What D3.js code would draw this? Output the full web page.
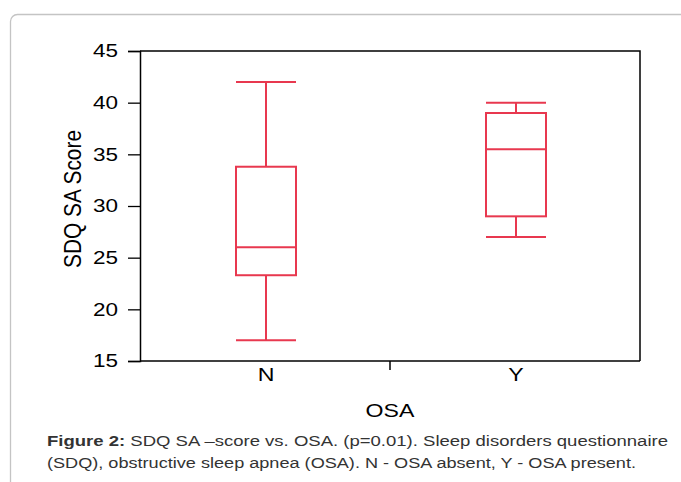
<!DOCTYPE html>
<html>
<head>
<meta charset="utf-8">
<script src="https://cdn.jsdelivr.net/npm/d3@7"></script>
<style>
  body { margin: 0; background: #fff; }
  svg { display: block; font-family: "Liberation Sans", Arial, sans-serif; }
</style>
</head>
<body>
<div id="chart"></div>
<script>
// Box plot data
var groups = ["N", "Y"];
var whiskerLow = [17, 27];
var q1 = [23.3, 29];
var median = [26, 35.5];
var q3 = [33.8, 39];
var whiskerHigh = [42, 40];
var yTicks = [15, 20, 25, 30, 35, 40, 45];

var W = 681, H = 482;
var margin = {top: 51, right: 41, bottom: 121, left: 140},
    width = W - margin.left - margin.right,
    height = H - margin.top - margin.bottom;

var color = "#e8384f";
var sx = 1.25;   // the original figure's text is stretched sideways

var root = d3.select("#chart").append("svg")
    .attr("width", W)
    .attr("height", H);

// outer panel border
root.append("rect")
    .attr("x", 10.5).attr("y", 14.5)
    .attr("width", 700).attr("height", 500)
    .attr("rx", 7)
    .attr("fill", "none")
    .attr("stroke", "#c4c4c4")
    .attr("stroke-width", 1.3);

var svg = root.append("g")
    .attr("transform", "translate(" + margin.left + "," + margin.top + ")");

var x = d3.scaleBand()
    .domain(groups)
    .range([1, width + 1]);

var y = d3.scaleLinear()
    .domain([15, 45])
    .range([height, 0]);

var boxW = 60;

// frame: top and right
svg.append("path")
    .attr("d", "M0,0H" + width + "V" + height)
    .attr("fill", "none")
    .attr("stroke", "#000")
    .attr("stroke-width", 1.5);

// Y axis
var yAxis = svg.append("g")
    .call(d3.axisLeft(y).tickValues(yTicks).tickSize(12).tickPadding(10));
yAxis.select(".domain").attr("stroke-width", 1.5);
yAxis.selectAll(".tick line").attr("stroke-width", 1.3);
yAxis.selectAll("text")
    .attr("font-size", 18).attr("fill", "#000")
    .attr("font-family", "Liberation Sans, Arial, sans-serif")
    .attr("x", -22 / sx)
    .attr("transform", "scale(" + sx + ",1)");

// X axis: labels under each box, one tick between the groups
var xAxis = svg.append("g")
    .attr("transform", "translate(0," + height + ")")
    .call(d3.axisBottom(x).tickSize(0).tickPadding(7));
xAxis.select(".domain").attr("d", "M0,0H" + width).attr("stroke-width", 1.5);
xAxis.selectAll("text")
    .attr("font-size", 18.5).attr("fill", "#000")
    .attr("font-family", "Liberation Sans, Arial, sans-serif")
    .attr("transform", "scale(" + sx + ",1)");
xAxis.append("line")
    .attr("x1", width / 2).attr("x2", width / 2)
    .attr("y1", 0).attr("y2", 9)
    .attr("stroke", "#000")
    .attr("stroke-width", 1.5);

// axis titles
root.append("text")
    .attr("transform", "translate(81,199) rotate(-90) scale(1," + sx + ")")
    .attr("text-anchor", "middle")
    .attr("font-size", 18.5)
    .attr("textLength", 138)
    .attr("lengthAdjust", "spacingAndGlyphs")
    .text("SDQ SA Score");

root.append("text")
    .attr("transform", "translate(" + (margin.left + width / 2) + ",417) scale(" + sx + ",1)")
    .attr("text-anchor", "middle")
    .attr("font-size", 18.5)
    .text("OSA");

// boxes
var boxes = svg.append("g")
    .selectAll("g")
    .data(groups)
    .join("g")
    .attr("transform", function(d) { return "translate(" + (x(d) + x.bandwidth() / 2) + ",0)"; })
    .attr("stroke", color)
    .attr("stroke-width", 2)
    .attr("fill", "none");

boxes.each(function(d, i) {
    var g = d3.select(this);
    g.append("line").attr("x1", 0).attr("x2", 0)
        .attr("y1", y(whiskerHigh[i])).attr("y2", y(q3[i]));
    g.append("line").attr("x1", 0).attr("x2", 0)
        .attr("y1", y(q1[i])).attr("y2", y(whiskerLow[i]));
    g.append("line").attr("x1", -boxW / 2).attr("x2", boxW / 2)
        .attr("y1", y(whiskerHigh[i])).attr("y2", y(whiskerHigh[i]));
    g.append("line").attr("x1", -boxW / 2).attr("x2", boxW / 2)
        .attr("y1", y(whiskerLow[i])).attr("y2", y(whiskerLow[i]));
    g.append("rect")
        .attr("x", -boxW / 2).attr("width", boxW)
        .attr("y", y(q3[i])).attr("height", y(q1[i]) - y(q3[i]));
    g.append("line").attr("x1", -boxW / 2).attr("x2", boxW / 2)
        .attr("y1", y(median[i])).attr("y2", y(median[i]));
});

// caption
var cap = root.append("text")
    .attr("x", 47)
    .attr("y", 446)
    .attr("font-size", 15.5)
    .attr("fill", "#333")
    .attr("textLength", 621)
    .attr("lengthAdjust", "spacingAndGlyphs");
cap.append("tspan").attr("font-weight", "bold").text("Figure 2:");
cap.append("tspan").text(" SDQ SA \u2013score vs. OSA. (p=0.01). Sleep disorders questionnaire");

root.append("text")
    .attr("x", 47)
    .attr("y", 468)
    .attr("font-size", 15.5)
    .attr("fill", "#333")
    .attr("textLength", 589)
    .attr("lengthAdjust", "spacingAndGlyphs")
    .text("(SDQ), obstructive sleep apnea (OSA). N - OSA absent, Y - OSA present.");
</script>
</body>
</html>
